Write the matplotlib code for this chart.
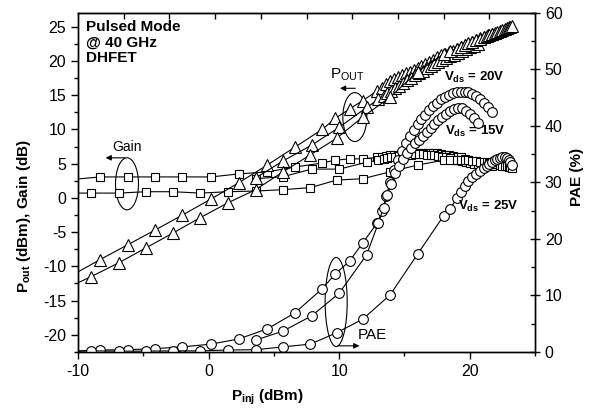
import matplotlib
matplotlib.use("Agg")
import matplotlib.pyplot as plt
from matplotlib.patches import Ellipse
from matplotlib.ticker import MultipleLocator

plt.rcParams['font.family'] = 'Liberation Sans'
plt.rcParams['mathtext.fontset'] = 'custom'
plt.rcParams['mathtext.rm'] = 'Liberation Sans'
plt.rcParams['mathtext.bf'] = 'Liberation Sans:bold'
plt.rcParams['mathtext.it'] = 'Liberation Sans:italic'
plt.rcParams['axes.unicode_minus'] = False

#### data (Pinj in dBm) ####
# Vds = 20V
pin_20 = [-10.8, -8.3, -6.2, -4.1, -2.0, 0.2, 2.3, 4.5, 6.6, 8.7, 9.7, 10.8, 11.8, 12.9,
          13.3, 13.6, 13.9, 14.2, 14.5, 14.8, 15.1, 15.4, 15.7, 16.0,
          16.3, 16.6, 16.9, 17.2, 17.5, 17.8, 18.1, 18.4, 18.7, 19.0,
          19.3, 19.6, 19.9, 20.2, 20.5, 20.8, 21.1, 21.4, 21.7]
pout_20 = [-11.65, -9.0, -6.85, -4.7, -2.5, -0.15, 2.2, 4.8, 7.4, 10.0, 11.6, 13.0, 14.2, 15.6,
           16.1, 16.6, 17.0, 17.3, 17.6, 17.9, 18.2, 18.4, 18.7, 19.0,
           19.3, 19.6, 19.9, 20.2, 20.5, 20.8, 21.0, 21.3, 21.5, 21.8,
           22.0, 22.3, 22.5, 22.8, 23.0, 23.3, 23.5, 23.8, 24.0]
gain_20 = [2.63, 3.06, 3.06, 3.06, 3.06, 3.06, 3.5, 3.8, 4.5, 5.1, 5.5, 5.7, 5.7, 5.9,
           6.0, 6.1, 6.2, 6.3, 6.3, 6.4, 6.5, 6.5, 6.6, 6.6,
           6.6, 6.6, 6.6, 6.5, 6.5, 6.4, 6.3, 6.2, 6.1, 6.0,
           5.9, 5.7, 5.6, 5.4, 5.3, 5.1, 5.0, 4.8, 4.7]
pae_20 = [0.1, 0.35, 0.4, 0.6, 0.9, 1.4, 2.3, 4.1, 6.9, 11.2, 13.8, 16.1, 19.3, 22.8,
          25.0, 27.6, 30.0, 32.2, 34.0, 35.6, 37.0, 38.2, 39.3, 40.3,
          41.2, 42.0, 42.8, 43.5, 44.1, 44.7, 45.1, 45.5, 45.8, 46.0,
          46.1, 46.1, 46.0, 45.7, 45.3, 44.8, 44.1, 43.3, 42.4]

# Vds = 15V
pin_15 = [3.6, 5.7, 7.9, 10.0, 12.1, 13.0,
          13.4, 13.7, 14.0, 14.3, 14.6, 14.9, 15.2, 15.5, 15.8, 16.1,
          16.4, 16.7, 17.0, 17.3, 17.6, 17.9, 18.2, 18.5, 18.8, 19.1,
          19.4, 19.7, 20.0, 20.3, 20.6]
pout_15 = [2.9, 5.4, 7.7, 10.3, 13.2, 14.4,
           14.9, 15.3, 15.6, 16.0, 16.4, 16.8, 17.2, 17.5, 17.9, 18.2,
           18.5, 18.9, 19.2, 19.5, 19.8, 20.1, 20.4, 20.7, 20.9, 21.2,
           21.5, 21.7, 22.0, 22.2, 22.5]
gain_15 = [2.8, 3.1, 4.2, 4.2, 5.2, 5.5,
           5.7, 5.8, 5.9, 6.0, 6.1, 6.2, 6.3, 6.3, 6.4, 6.4,
           6.4, 6.3, 6.3, 6.2, 6.1, 6.0, 5.9, 5.8, 5.6, 5.5,
           5.4, 5.3, 5.1, 5.0, 4.9]
pae_15 = [2.1, 3.7, 6.4, 10.4, 17.2, 22.8,
          25.5, 27.8, 29.8, 31.6, 33.0, 34.2, 35.2, 36.1, 36.9, 37.6,
          38.3, 38.9, 39.6, 40.3, 41.0, 41.6, 42.2, 42.7, 43.0, 43.2,
          43.1, 42.7, 42.1, 41.4, 40.6]

# Vds = 25V
pin_25 = [-10.8, -9.0, -6.9, -4.8, -2.7, -0.65, 1.5, 3.6, 5.7, 7.8,
          9.8, 11.8, 13.9, 16.0, 18.0,
          18.5, 19.0, 19.3, 19.6, 19.9, 20.2, 20.5, 20.8, 21.1, 21.3,
          21.5, 21.7, 21.9, 22.1, 22.3, 22.5, 22.7, 22.85, 23.0, 23.1, 23.2]
pout_25 = [-13.1, -11.5, -9.5, -7.3, -5.1, -2.9, -0.7, 1.2, 3.8, 6.3,
           8.7, 11.8, 14.7, 18.4, 21.0,
           21.4, 21.8, 22.1, 22.3, 22.6, 22.8, 23.0, 23.2, 23.5, 23.6,
           23.8, 23.9, 24.1, 24.2, 24.4, 24.5, 24.7, 24.8, 24.9, 25.0, 25.1]
gain_25 = [0.7, 0.7, 0.7, 0.9, 0.9, 0.7, 0.9, 1.0, 1.2, 1.5,
           2.6, 2.8, 3.8, 4.8, 5.5,
           5.6, 5.6, 5.6, 5.5, 5.5, 5.4, 5.4, 5.3, 5.2, 5.2,
           5.1, 5.0, 5.0, 4.9, 4.8, 4.7, 4.7, 4.6, 4.5, 4.5, 4.4]
pae_25 = [0.1, 0.2, 0.15, 0.15, 0.2, 0.2, 0.35, 0.4, 0.9, 1.4,
          3.4, 5.8, 10.1, 17.3, 24.1,
          25.3, 27.2, 28.3, 29.3, 30.2, 30.9, 31.5, 32.0, 32.5, 32.9,
          33.3, 33.6, 33.9, 34.2, 34.4, 34.5, 34.5, 34.3, 34.0, 33.6, 33.1]

#### figure ####
fig = plt.figure(figsize=(5.97, 4.09), dpi=100)
ax = fig.add_axes([0.1307, 0.1394, 0.7655, 0.8289])
ax2 = ax.twinx()

line = dict(color='black', lw=0.8, mfc='white', mec='black', mew=0.8)

# gain (squares) and output power (triangles) on the left axis
for pin, g in [(pin_20, gain_20), (pin_15, gain_15), (pin_25, gain_25)]:
    ax.plot(pin, g, marker='s', ms=6, **line)
for pin, p in [(pin_20, pout_20), (pin_15, pout_15), (pin_25, pout_25)]:
    ax.plot(pin, p, marker='^', ms=8, **line)

# PAE (circles) on the right axis
for pin, e in [(pin_20, pae_20), (pin_15, pae_15), (pin_25, pae_25)]:
    ax2.plot(pin, e, marker='o', ms=7, **line)

ax.set_xlim(-10, 25)
ax.set_ylim(-22.5, 27)
ax2.set_ylim(0, 60)

# ticks
ax.xaxis.set_major_locator(MultipleLocator(10))
ax.xaxis.set_minor_locator(MultipleLocator(5))
ax.yaxis.set_major_locator(MultipleLocator(5))
ax.yaxis.set_minor_locator(MultipleLocator(2.5))
ax2.yaxis.set_major_locator(MultipleLocator(10))
ax2.yaxis.set_minor_locator(MultipleLocator(5))
ax.tick_params(which='both', direction='out', labelsize=11.5, width=1, top=False)
ax.tick_params(which='major', length=5)
ax.tick_params(which='minor', length=3)
ax2.tick_params(which='major', direction='inout', length=7, width=1, labelsize=11.5)
ax2.tick_params(which='minor', direction='in', length=3, width=1)

top = ax.secondary_xaxis('top')
top.set_xticks([-6.5, -3, 0.5, 4, 7.5, 11, 14.5, 18, 21.5])
top.set_xticklabels([])
top.tick_params(direction='in', length=4, width=1)

for a in (ax, ax2):
    for s in a.spines.values():
        s.set_linewidth(1.0)

# labels
ax.set_xlabel(r'$\mathbf{P_{inj}}$ (dBm)', fontsize=11, fontweight='bold')
ax.xaxis.set_label_coords(0.415, -0.105)
ax.set_ylabel(r'$\mathbf{P_{out}}$ (dBm), Gain (dB)', fontsize=11, fontweight='bold')
ax.yaxis.set_label_coords(-0.098, 0.40)
ax2.set_ylabel('PAE (%)', fontsize=11, fontweight='bold')
ax2.yaxis.set_label_coords(1.077, 0.516)

ax.text(0.0175, 0.979, 'Pulsed Mode\n@ 40 GHz\nDHFET', transform=ax.transAxes,
        fontsize=11, fontweight='bold', va='top', ha='left', linespacing=1.15)

# ellipses and arrows marking each group of curves
arr = dict(arrowstyle='-|>', color='black', lw=0.8, mutation_scale=8)
ax.add_patch(Ellipse((-6.25, 2.05), 1.76, 7.6, fill=False, lw=0.8))
ax.annotate('', xy=(-8.1, 5.85), xytext=(-6.2, 5.85), arrowprops=arr)
ax.text(-6.25, 7.4, 'Gain', fontsize=10, ha='center', va='center')

ax.add_patch(Ellipse((11.2, 11.8), 1.84, 7.15, fill=False, lw=0.8))
ax.annotate('', xy=(9.85, 16.0), xytext=(11.45, 16.0), arrowprops=arr)
ax.text(9.3, 17.9, r'P$_{\mathrm{OUT}}$', fontsize=11, ha='left', va='center')

ax.add_patch(Ellipse((9.77, -15.2), 1.69, 13.0, fill=False, lw=0.8))
ax.annotate('', xy=(11.76, -21.6), xytext=(9.7, -21.6), arrowprops=arr)
ax.text(11.45, -20.0, 'PAE', fontsize=11, ha='left', va='center')

# drain voltage labels
ax2.text(18.0, 48.5, r'V$_{\mathbf{ds}}$ = 20V', fontsize=9.5, fontweight='bold', va='center')
ax2.text(18.1, 39.1, r'V$_{\mathbf{ds}}$ = 15V', fontsize=9.5, fontweight='bold', va='center')
ax2.text(19.1, 25.7, r'V$_{\mathbf{ds}}$ = 25V', fontsize=9.5, fontweight='bold', va='center')

plt.savefig('out.png', dpi=100)
